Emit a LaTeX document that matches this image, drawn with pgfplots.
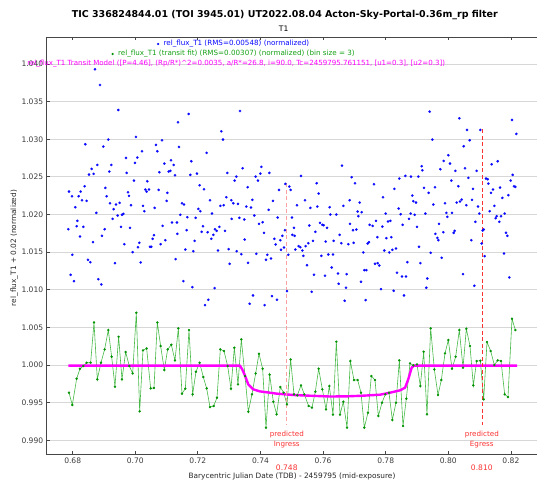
\documentclass[border=0pt]{standalone}
\usepackage{pgfplots}
\pgfplotsset{compat=1.18}
\usepackage{fontspec}
\setmainfont{DejaVu Sans}
\definecolor{bluept}{RGB}{10,10,255}
\definecolor{greenln}{RGB}{70,185,70}
\definecolor{greenpt}{RGB}{0,145,0}
\definecolor{magentaln}{RGB}{255,0,255}
\definecolor{redln}{RGB}{250,50,50}
\definecolor{pinkln}{RGB}{250,160,160}
\definecolor{gridgray}{RGB}{215,215,215}
\definecolor{axisgray}{RGB}{70,70,70}
\definecolor{ticktext}{RGB}{60,60,60}
\definecolor{leggreen}{RGB}{20,160,20}
\begin{document}
\begin{tikzpicture}
\useasboundingbox (-46.7bp,-28bp) rectangle (490.3bp,454bp);
\begin{axis}[
  at={(0,0)}, anchor=south west,
  scale only axis, width=490bp, height=417bp,
  xmin=0.6717, xmax=0.82824, ymin=0.98818, ymax=1.04359,
  clip=false,
  xtick={0.68,0.70,0.72,0.74,0.76,0.78,0.80,0.82},
  ytick={0.990,0.995,1.000,1.005,1.010,1.015,1.020,1.025,1.030,1.035,1.040},
  scaled ticks=false,
  /pgf/number format/assume math mode=true,
  xticklabel style={/pgf/number format/fixed,/pgf/number format/fixed zerofill,/pgf/number format/precision=2,font=\fontsize{7.6}{9}\selectfont,text=ticktext},
  yticklabel style={/pgf/number format/fixed,/pgf/number format/fixed zerofill,/pgf/number format/precision=3,font=\fontsize{7.6}{9}\selectfont,text=ticktext},
  ymajorgrids, grid style={line width=1bp, color=gridgray},
  axis line style={draw=none},
  tick style={axisgray, line width=0.8bp},
  tick align=inside, major tick length=3bp,
  ytick pos=left,
]
\draw[axisgray, line width=0.8bp] (rel axis cs:1,1) -- (rel axis cs:0,1) -- (rel axis cs:0,0) -- (rel axis cs:1,0);
% blue raw points
\addplot[color=bluept, only marks, mark=*, mark size=1.2bp, mark options={fill=bluept, draw=bluept, line width=0.2bp}] coordinates {
(0.67860,1.01805)(0.67882,1.02305)(0.67935,1.01199)(0.67978,1.02243)(0.67988,1.01465)(0.68041,1.01115)
(0.68084,1.02097)(0.68127,1.01845)(0.68148,1.01916)(0.68191,1.02243)(0.68233,1.01708)(0.68254,1.02305)
(0.68297,1.02190)(0.68340,1.01836)(0.68382,1.02376)(0.68404,1.02934)(0.68446,1.02181)(0.68489,1.01398)
(0.68521,1.02531)(0.68563,1.01367)(0.68606,1.02606)(0.68649,1.01633)(0.68670,1.02540)(0.68712,1.03930)
(0.68755,1.02022)(0.68787,1.02659)(0.68819,1.01141)(0.68872,1.03721)(0.68915,1.01071)(0.68936,1.01717)
(0.68979,1.02903)(0.69021,1.01805)(0.69043,1.02354)(0.69085,1.02243)(0.69138,1.02996)(0.69170,1.02571)
(0.69192,1.02150)(0.69234,1.02659)(0.69277,1.01942)(0.69309,1.02071)(0.69351,1.01354)(0.69383,1.02133)
(0.69437,1.01987)(0.69458,1.03389)(0.69500,1.02155)(0.69543,1.01836)(0.69575,1.01996)(0.69618,1.02009)
(0.69650,1.01606)(0.69703,1.02752)(0.69724,1.02553)(0.69767,1.02296)(0.69799,1.02248)(0.69831,1.01823)
(0.69863,1.02124)(0.69916,1.01500)(0.69958,1.02451)(0.69990,1.02686)(0.70022,1.03031)(0.70065,1.02757)
(0.70086,1.01566)(0.70129,1.01624)(0.70172,1.01363)(0.70214,1.02841)(0.70246,1.02115)(0.70289,1.02044)
(0.70321,1.02332)(0.70363,1.02305)(0.70384,1.02442)(0.70438,1.02332)(0.70470,1.01571)(0.70512,1.01571)
(0.70555,1.01677)(0.70597,1.01726)(0.70619,1.02088)(0.70661,1.02925)(0.70704,1.02841)(0.70746,1.02327)
(0.70768,1.02562)(0.70810,1.01606)(0.70853,1.02987)(0.70874,1.01849)(0.70928,1.02677)(0.70960,1.01659)
(0.71002,1.02181)(0.71023,1.02288)(0.71066,1.02571)(0.71119,1.02580)(0.71141,1.02721)(0.71172,1.01894)
(0.71226,1.02659)(0.71268,1.02522)(0.71289,1.01407)(0.71330,1.01894)
(0.71343,1.01743)(0.71364,1.03226)(0.71396,1.02898)(0.71439,1.01996)(0.71492,1.02150)(0.71535,1.01115)
(0.71556,1.02133)(0.71599,1.01535)(0.71641,1.01792)(0.71662,1.01965)(0.71705,1.03336)(0.71758,1.02527)
(0.71790,1.02708)(0.71822,1.01035)(0.71854,1.01513)(0.71897,1.01650)(0.71929,1.01956)(0.71971,1.02544)
(0.72014,1.02075)(0.72056,1.02389)(0.72078,1.02044)(0.72120,1.01770)(0.72163,1.01845)(0.72195,1.02336)
(0.72227,1.00796)(0.72280,1.02819)(0.72312,1.01765)(0.72333,1.00867)(0.72387,1.02190)(0.72429,1.01677)
(0.72450,1.02013)(0.72493,1.01730)(0.72536,1.01022)(0.72546,1.01805)(0.72600,1.01783)(0.72642,1.01522)
(0.72685,1.01836)(0.72717,1.02115)(0.72749,1.03106)(0.72802,1.02996)(0.72823,1.02124)(0.72866,1.01783)
(0.72908,1.02230)(0.72940,1.02553)(0.72983,1.01540)(0.73015,1.01345)(0.73068,1.02190)(0.73079,1.01942)
(0.73132,1.02150)(0.73175,1.02451)(0.73228,1.02504)(0.73240,1.01513)(0.73281,1.02141)(0.73324,1.01956)
(0.73345,1.03376)(0.73388,1.01473)(0.73430,1.02615)(0.73483,1.01934)(0.73494,1.01668)(0.73547,1.02106)
(0.73590,1.02363)(0.73601,1.01358)(0.73654,1.00814)(0.73696,1.02093)(0.73739,1.02195)(0.73760,1.00925)
(0.73803,1.01987)(0.73846,1.02504)(0.73867,1.01478)(0.73920,1.02451)(0.73952,1.01876)(0.73995,1.02544)
(0.74027,1.02633)(0.74069,1.01898)(0.74112,1.01756)(0.74133,1.00796)(0.74176,1.01398)(0.74218,1.01465)
(0.74261,1.02062)(0.74282,1.02553)(0.74335,1.01416)(0.74367,1.00916)(0.74399,1.02181)(0.74442,1.01677)
(0.74484,1.01602)(0.74527,1.00867)(0.74548,1.01960)(0.74591,1.02327)(0.74634,1.01659)(0.74655,1.01531)
(0.74698,1.01717)(0.74751,1.01562)(0.74782,1.01792)(0.74793,1.02407)(0.74847,1.00982)(0.74889,1.01465)
(0.74921,1.02372)(0.74964,1.02327)(0.75006,1.01960)(0.75017,1.01730)(0.75070,1.01823)(0.75091,1.01717)
(0.75113,1.01535)
(0.75166,1.02124)(0.75219,1.01580)(0.75273,1.01566)(0.75294,1.02513)(0.75337,1.01522)(0.75368,1.01451)
(0.75422,1.02190)(0.75443,1.01580)(0.75486,1.01327)(0.75528,1.01619)(0.75560,1.01854)(0.75592,1.02088)
(0.75635,1.00973)(0.75677,1.01650)(0.75709,1.01199)(0.75752,1.01770)(0.75794,1.02416)(0.75816,1.02106)
(0.75858,1.02279)(0.75901,1.01889)(0.75944,1.01451)(0.75975,1.01863)(0.76018,1.01858)(0.76061,1.01186)
(0.76082,1.01641)(0.76125,1.01823)(0.76167,1.01469)(0.76210,1.02097)(0.76231,1.02000)(0.76274,1.01296)
(0.76316,1.01469)(0.76338,1.01650)(0.76423,1.02000)(0.76476,1.01217)(0.76497,1.01080)(0.76529,1.01730)
(0.76583,1.01619)(0.76604,1.02650)(0.76647,1.02115)(0.76689,1.00854)(0.76732,1.01027)(0.76753,1.01208)
(0.76806,1.01606)(0.76849,1.02190)(0.76859,1.01876)(0.76913,1.02496)(0.76955,1.01792)(0.76976,1.01624)
(0.77019,1.02416)(0.77062,1.01801)(0.77104,1.02040)(0.77126,1.01978)(0.77168,1.02159)(0.77211,1.01106)
(0.77232,1.02031)(0.77285,1.01496)(0.77317,1.01261)(0.77360,1.00863)(0.77381,1.01261)(0.77424,1.01615)
(0.77466,1.01633)(0.77488,1.01863)(0.77584,1.01849)(0.77626,1.02403)(0.77658,1.01345)(0.77690,1.01916)
(0.77733,1.01699)(0.77743,1.01354)(0.77796,1.01323)(0.77850,1.01009)(0.77893,1.01840)(0.77914,1.02230)
(0.77956,1.01522)(0.77999,1.02013)(0.78020,1.01686)(0.78074,1.01907)(0.78116,1.01496)(0.78148,1.01916)
(0.78180,1.01699)(0.78212,1.01531)(0.78254,1.00987)(0.78276,1.02341)(0.78329,1.01549)(0.78361,1.01226)
(0.78414,1.02080)(0.78436,1.02478)(0.78478,1.02004)(0.78521,1.01177)(0.78542,1.01863)(0.78585,1.00925)
(0.78627,1.02513)(0.78648,1.01177)(0.78691,1.01367)(0.78744,1.01942)(0.78798,1.02013)(0.78808,1.02504)
(0.78851,1.02252)(0.78883,1.02177)
(0.78926,1.01996)(0.78968,1.02159)(0.79000,1.01836)(0.79043,1.02504)(0.79064,1.01571)(0.79107,1.01354)
(0.79149,1.02642)(0.79170,1.02588)(0.79224,1.02354)(0.79267,1.02013)(0.79298,1.01027)(0.79330,1.01150)
(0.79373,1.02288)(0.79405,1.03367)(0.79437,1.01491)(0.79490,1.02996)(0.79522,1.02133)(0.79575,1.02363)
(0.79586,1.01743)(0.79650,1.01690)(0.79682,1.01659)(0.79703,1.01876)(0.79746,1.02602)(0.79788,1.01425)
(0.79841,1.01765)(0.79852,1.02712)(0.79895,1.02150)(0.79937,1.02022)(0.79969,1.01969)(0.80001,1.02788)
(0.80054,1.02677)(0.80097,1.02451)(0.80118,1.02022)(0.80172,1.01756)(0.80203,1.01783)(0.80225,1.02580)
(0.80267,1.02159)(0.80321,1.02376)(0.80353,1.03279)(0.80374,1.02173)(0.80427,1.02199)(0.80470,1.01208)
(0.80491,1.02907)(0.80534,1.02615)(0.80576,1.02124)(0.80597,1.03124)(0.80640,1.02487)(0.80683,1.02987)
(0.80736,1.01659)(0.80757,1.02195)(0.80789,1.02341)(0.80832,1.01053)(0.80864,1.01903)(0.80906,1.02580)
(0.80949,1.02106)(0.80991,1.02013)(0.81023,1.03124)(0.81066,1.01615)(0.81098,1.01788)(0.81130,1.01801)
(0.81162,1.01447)(0.81204,1.02478)(0.81258,1.02469)(0.81279,1.02411)(0.81322,1.02044)(0.81364,1.02288)
(0.81385,1.02668)(0.81428,1.02332)(0.81471,1.02115)(0.81513,1.01951)(0.81545,1.01978)(0.81577,1.02708)
(0.81630,1.01903)(0.81652,1.02358)(0.81684,1.01978)(0.81726,1.02221)(0.81779,1.01482)(0.81801,1.02013)
(0.81843,1.01757)(0.81886,1.01717)(0.81918,1.02257)(0.81950,1.01164)(0.81993,1.02451)(0.82035,1.03257)
(0.82057,1.02527)(0.82099,1.02376)(0.82142,1.02367)(0.82174,1.03071)
};
% green binned fit data
\addplot[color=greenln, line width=0.6bp, mark=*, mark size=1.1bp, mark options={fill=greenpt, draw=greenpt, line width=0.2bp}] coordinates {
(0.67882,0.99633)(0.67988,0.99469)(0.68127,0.99819)(0.68233,0.99951)(0.68340,0.99987)(0.68446,1.00031)
(0.68574,1.00031)(0.68681,1.00566)(0.68787,0.99810)(0.68904,1.00031)(0.69021,1.00208)(0.69138,1.00465)
(0.69245,1.00111)(0.69351,0.99712)(0.69468,1.00376)(0.69575,0.99810)(0.69692,1.00173)(0.69809,0.99987)
(0.69916,0.99889)(0.70033,1.00695)(0.70140,0.99385)(0.70246,1.00195)(0.70363,1.00221)(0.70491,0.99690)
(0.70597,0.99695)(0.70704,1.00566)(0.70810,1.00252)(0.70928,0.99934)(0.71034,1.00208)(0.71151,1.00270)
(0.71268,1.00062)(0.71375,1.00487)(0.71492,0.99619)(0.71598,0.99686)(0.71716,1.00465)(0.71833,0.99611)
(0.71939,0.99911)(0.72056,1.00031)(0.72173,0.99841)(0.72280,0.99690)(0.72387,0.99442)(0.72504,0.99456)
(0.72610,0.99566)(0.72717,1.00208)(0.72834,1.00186)(0.72951,0.99987)(0.73057,0.99686)(0.73164,1.00230)
(0.73281,0.99743)(0.73388,1.00341)(0.73505,0.99854)(0.73611,0.99380)(0.73728,0.99611)(0.73845,0.99889)
(0.73952,1.00150)(0.74069,0.99951)(0.74176,0.99168)(0.74293,0.99872)(0.74410,0.99513)(0.74516,0.99345)
(0.74633,0.99708)(0.74740,0.99633)(0.74846,0.99478)(0.74963,1.00075)(0.75070,0.99611)(0.75176,0.99597)
(0.75294,0.99730)(0.75400,0.99611)(0.75538,0.99456)(0.75645,0.99434)(0.75752,0.99646)(0.75858,0.99951)
(0.75976,0.99677)(0.76093,0.99411)(0.76199,0.99721)(0.76316,0.99341)(0.76423,1.00310)(0.76540,0.99341)
(0.76646,0.99513)(0.76764,0.99168)(0.76870,1.00053)(0.76987,0.99801)(0.77104,0.99801)(0.77211,0.99633)
(0.77317,0.99168)(0.77434,0.99367)(0.77541,0.99854)(0.77658,0.99801)(0.77765,0.99323)(0.77882,0.99500)
(0.77988,0.99611)(0.78105,0.99633)(0.78212,0.99270)(0.78329,0.99500)(0.78436,1.00062)(0.78553,0.99190)
(0.78659,0.99553)(0.78776,1.00022)(0.78883,0.99996)(0.79000,1.00009)(0.79106,0.99721)(0.79213,1.00177)
(0.79319,0.99345)(0.79437,1.00487)(0.79554,0.99942)(0.79671,0.99602)(0.79777,0.99801)(0.79895,1.00155)
(0.80001,1.00332)(0.80118,0.99951)(0.80235,1.00111)(0.80352,1.00465)(0.80470,0.99965)(0.80576,1.00482)
(0.80693,1.00252)(0.80800,0.99730)(0.80906,1.00053)(0.81023,1.00058)(0.81130,0.99544)(0.81236,1.00305)
(0.81354,1.00186)(0.81471,1.00000)(0.81577,1.00062)(0.81684,1.00053)(0.81801,0.99611)(0.81907,0.99575)
(0.82035,1.00615)(0.82142,1.00465)
};
% transit model
\addplot[color=magentaln, line width=2.4bp, line join=round] coordinates {
(0.6786,0.99993)(0.7334,0.99993)(0.7342,0.99940)(0.7351,0.99854)(0.7361,0.99743)(0.7377,0.99677)
(0.7398,0.99650)(0.7452,0.99620)(0.7505,0.99602)(0.7554,0.99593)(0.7622,0.99582)(0.7675,0.99584)
(0.7729,0.99593)(0.7782,0.99606)(0.7814,0.99633)(0.7846,0.99664)(0.7862,0.99700)(0.7872,0.99810)
(0.7883,0.99965)(0.7890,0.99993)(0.8220,0.99993)
};
% predicted ingress / egress
\addplot[color=pinkln, line width=1.3bp, dash pattern=on 4bp off 2.5bp] coordinates {(0.74837,1.02414)(0.74837,0.99202)};
\addplot[color=redln, line width=0.8bp, dash pattern=on 4bp off 2.5bp] coordinates {(0.81086,1.03132)(0.81086,0.99202)};
\node[text=redln, align=center, font=\fontsize{7.2}{10}\selectfont, inner sep=0] at (axis cs:0.74840,0.99016) {predicted\\Ingress};
\node[text=redln, align=center, font=\fontsize{7.2}{10}\selectfont, inner sep=0] at (axis cs:0.81070,0.99016) {predicted\\Egress};
\node[text=redln, font=\fontsize{7.6}{9}\selectfont, inner sep=0] at ([yshift=-14bp]axis cs:0.74840,0.98818) {0.748};
\node[text=redln, font=\fontsize{7.6}{9}\selectfont, inner sep=0] at ([yshift=-14bp]axis cs:0.81070,0.98818) {0.810};
\end{axis}
% titles
\node[font=\bfseries\fontsize{9.5}{11}\selectfont, inner sep=0] at (238.1bp,438.5bp) {TIC 336824844.01 (TOI 3945.01) UT2022.08.04 Acton-Sky-Portal-0.36m\_rp filter};
\node[font=\fontsize{7.6}{9}\selectfont, inner sep=0] at (237bp,425bp) {T1};
% legend
\node[inner sep=0, text=bluept, font=\fontsize{7.2}{9}\selectfont] (L1) at (189.7bp,410bp) {rel\_flux\_T1 (RMS=0.00548) (normalized)};
\fill[bluept] ([xshift=-5.3bp]L1.west) circle (1.2bp);
\node[inner sep=0, text=leggreen, font=\fontsize{7.2}{9}\selectfont] (L2) at (189.7bp,400bp) {rel\_flux\_T1 (transit fit) (RMS=0.00307) (normalized) (bin size = 3)};
\fill[greenpt] ([xshift=-5.3bp]L2.west) circle (1.2bp);
\node[inner sep=0, text=magentaln, font=\fontsize{7.1}{9}\selectfont] (L3) at (189.5bp,390bp) {rel\_flux\_T1 Transit Model ([P=4.46], (Rp/R*)\^{}2=0.0035, a/R*=26.8, i=90.0, Tc=2459795.761151, [u1=0.3], [u2=0.3])};
% axis labels
\node[rotate=90, font=\fontsize{7.4}{9}\selectfont, text=black!85, inner sep=0] at (-32.5bp,206bp) {rel\_flux\_T1 + 0.02 (normalized)};
\node[font=\fontsize{7.4}{9}\selectfont, text=black!85, inner sep=0] at (245.3bp,-22bp) {Barycentric Julian Date (TDB) - 2459795 (mid-exposure)};
\end{tikzpicture}
\end{document}
